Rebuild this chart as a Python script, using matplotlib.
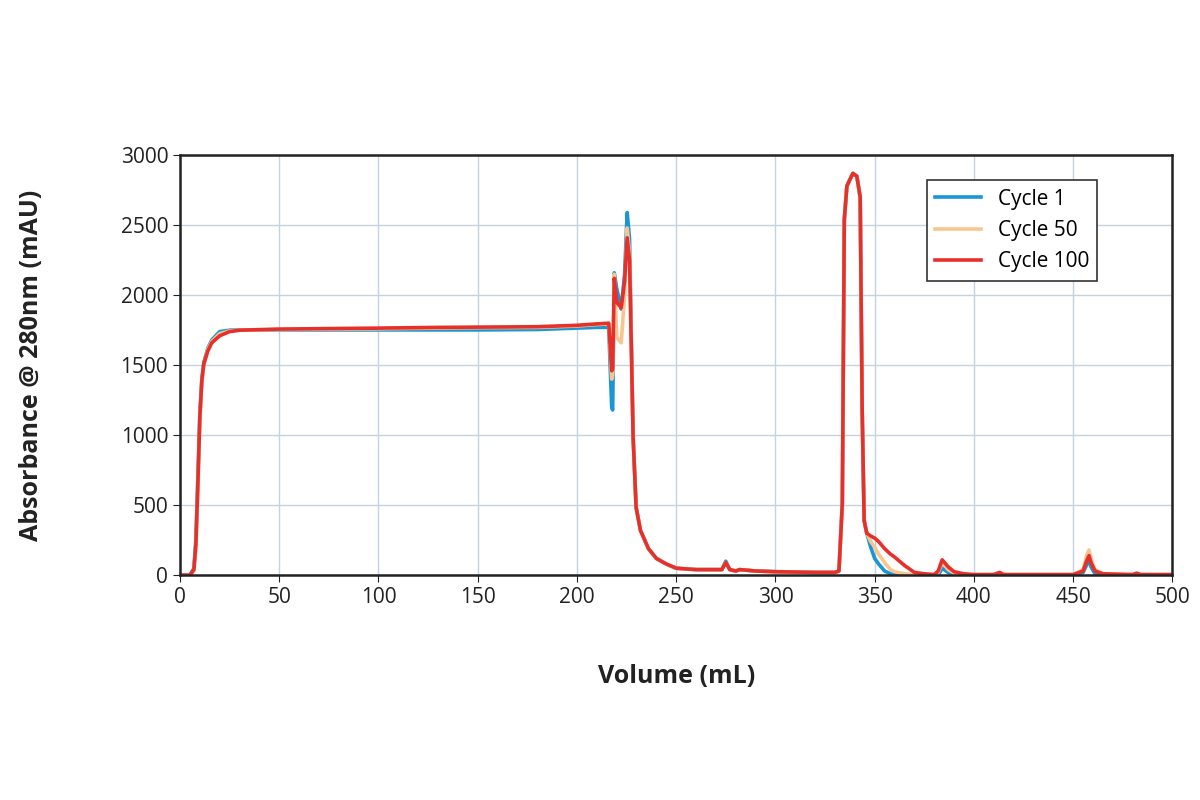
import matplotlib
matplotlib.use("Agg")
import matplotlib.pyplot as plt

plt.rcParams["font.family"] = "Open Sans"

# Volume (mL) sample points shared by all three cycles
VOLUME = [0, 5, 7, 8, 9, 10, 11, 12, 14, 16, 20, 25, 30, 50, 100, 130, 150, 180, 200,
          210, 216, 217.5, 218, 218.8, 220, 222.3, 224, 225.3, 226.5, 228.3, 229.8,
          232, 236, 240, 245, 250, 260, 270, 273, 275, 277, 280, 282, 290, 300, 320,
          330, 332, 333.7, 334.7, 336, 339, 341, 342.7, 343.7, 344.7, 346, 348, 350,
          352, 355, 358, 360, 365, 370, 375, 380, 382, 384, 387, 390, 395, 400, 410,
          413, 415, 420, 440, 450, 455, 457, 458, 459, 461, 465, 480, 482, 484, 500]

CYCLE_1 = [0, 0, 50, 250, 700, 1150, 1400, 1520, 1620, 1680, 1740, 1750, 1752, 1752, 1752, 1752, 1752, 1755, 1765,
           1770, 1770, 1200, 1180, 2160, 2050, 1900, 2150, 2590, 2400, 985, 485,
           320, 190, 120, 80, 50, 40, 40, 40, 100, 40, 30, 40, 30, 25, 20,
           20, 30, 515, 2540, 2780, 2870, 2850, 2700, 1180, 390, 300, 200, 120,
           80, 30, 10, 5, 0, 0, 0, 0, 0, 50, 20, 5, 0, 0, 0,
           10, 0, 0, 0, 0, 20, 80, 100, 60, 10, 0, 0, 0, 0, 0]

CYCLE_50 = [0, 0, 30, 200, 600, 1100, 1380, 1500, 1610, 1670, 1725, 1745, 1750, 1755, 1760, 1765, 1768, 1770, 1780,
            1790, 1795, 1400, 1430, 2150, 1700, 1660, 2000, 2480, 2300, 985, 485,
            320, 190, 120, 80, 50, 40, 40, 40, 90, 40, 30, 40, 30, 25, 20,
            20, 30, 515, 2540, 2780, 2870, 2850, 2700, 1180, 390, 300, 240, 200,
            150, 90, 40, 25, 10, 5, 0, 0, 20, 90, 40, 15, 5, 0, 0,
            15, 0, 0, 0, 0, 40, 150, 180, 120, 40, 10, 0, 10, 0, 0]

CYCLE_100 = [0, 0, 40, 220, 650, 1130, 1390, 1510, 1600, 1660, 1710, 1740, 1750, 1758, 1765, 1770, 1772, 1775, 1785,
             1795, 1800, 1460, 1480, 2120, 1950, 1910, 2100, 2410, 2250, 985, 485,
             320, 190, 120, 80, 50, 40, 40, 40, 90, 40, 30, 40, 30, 25, 20,
             20, 30, 515, 2540, 2780, 2870, 2850, 2700, 1180, 390, 300, 280, 265,
             240, 190, 150, 130, 70, 20, 10, 5, 30, 110, 60, 25, 10, 5, 5,
             20, 5, 5, 5, 5, 30, 110, 140, 90, 30, 10, 5, 15, 5, 5]

SERIES = [("Cycle 1", CYCLE_1, "#1a96d4"),
          ("Cycle 50", CYCLE_50, "#f7c690"),
          ("Cycle 100", CYCLE_100, "#e8302a")]

fig = plt.figure(figsize=(12, 8), dpi=100)
ax = fig.add_axes([0.15, 0.281, 0.827, 0.525])

for label, values, color in SERIES:
    ax.plot(VOLUME, values, color=color, lw=2.6, label=label, solid_joinstyle="round")

ax.set_xlim(0, 500)
ax.set_ylim(0, 3000)
ax.set_xticks(range(0, 501, 50))
ax.set_yticks(range(0, 3001, 500))
ax.grid(True, color="#c5d3e0", lw=1.0)
ax.set_axisbelow(True)
for side in ax.spines.values():
    side.set_color("#222222")
    side.set_linewidth(1.8)
ax.tick_params(labelsize=15, colors="#222222", length=5)
ax.set_xlabel("Volume (mL)", fontsize=18, fontweight="bold", labelpad=40, color="#222222")
ax.set_ylabel("Absorbance @ 280nm (mAU)", fontsize=18, fontweight="bold", labelpad=55, color="#222222")

leg = ax.legend(loc="upper right", bbox_to_anchor=(0.935, 0.965), fontsize=15,
                fancybox=False, edgecolor="#333333", framealpha=1, handlelength=2.2)
leg.get_frame().set_linewidth(1.2)

fig.savefig("out.png", dpi=100)
